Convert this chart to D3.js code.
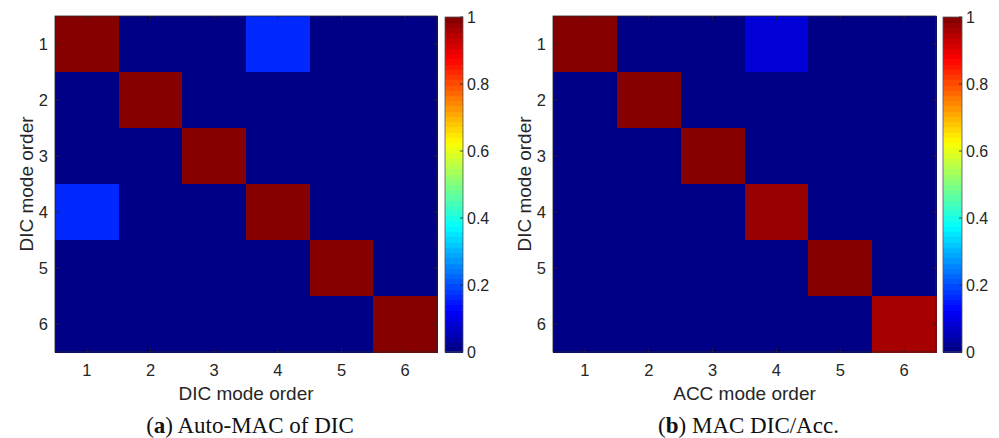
<!DOCTYPE html>
<html>
<head>
<meta charset="utf-8">
<script src="https://cdn.jsdelivr.net/npm/d3@7/dist/d3.min.js"></script>
<style>
  body { margin: 0; background: #fff; }
  svg { display: block; }
</style>
</head>
<body>
<svg id="chart" width="999" height="438"></svg>
<script>
// ---- data ----
const modes = [1, 2, 3, 4, 5, 6];
// MAC matrices, rows = DIC mode (y), cols = mode (x)
const macAuto = [
  [1.00, 0.00, 0.00, 0.16, 0.00, 0.00],
  [0.00, 1.00, 0.00, 0.00, 0.00, 0.00],
  [0.00, 0.00, 1.00, 0.00, 0.00, 0.00],
  [0.16, 0.00, 0.00, 1.00, 0.00, 0.00],
  [0.00, 0.00, 0.00, 0.00, 1.00, 0.00],
  [0.00, 0.00, 0.00, 0.00, 0.00, 1.00]
];
const macDicAcc = [
  [1.00, 0.00, 0.00, 0.09, 0.00, 0.00],
  [0.00, 0.995, 0.00, 0.00, 0.00, 0.00],
  [0.00, 0.00, 0.995, 0.00, 0.00, 0.00],
  [0.00, 0.00, 0.00, 0.975, 0.00, 0.00],
  [0.00, 0.00, 0.00, 0.00, 0.988, 0.00],
  [0.00, 0.00, 0.00, 0.00, 0.00, 0.968]
];
const colorbarTicks = [0, 0.2, 0.4, 0.6, 0.8, 1];
const panels = [
  { id: "a", matrix: macAuto, xTitle: "DIC mode order", yTitle: "DIC mode order", caption: "Auto-MAC of DIC" },
  { id: "b", matrix: macDicAcc, xTitle: "ACC mode order", yTitle: "DIC mode order", caption: "MAC DIC/Acc." }
];

// ---- MATLAB jet (64 levels) ----
const NLEV = 64;
function jet(v) {
  const c = x => Math.max(0, Math.min(1, x));
  const r = c(1.5 - Math.abs(4 * v - 3));
  const g = c(1.5 - Math.abs(4 * v - 2));
  const b = c(1.5 - Math.abs(4 * v - 1));
  return d3.rgb(r * 255, g * 255, b * 255).formatHex();
}
function jetQ(v) {
  let i = Math.min(NLEV - 1, Math.floor(v * NLEV));
  return jet((i + 0.5) / NLEV);
}

const svg = d3.select("#chart");
const fontSans = "'Liberation Sans', Arial, Helvetica, sans-serif";
const txt = "#262626";
const axisCol = "#262626";

const layouts = [
  { x0: 55, x1: 437, cb0: 445, cb1: 463 },
  { x0: 553, x1: 936, cb0: 943, cb1: 962 }
];
const y0 = 16, y1 = 352;

panels.forEach((p, pi) => {
  const L = layouts[pi];
  const g = svg.append("g");
  const x = d3.scaleBand().domain(modes).range([L.x0, L.x1]).padding(0);
  const y = d3.scaleBand().domain(modes).range([y0, y1]).padding(0);

  const cells = [];
  p.matrix.forEach((row, ri) => row.forEach((v, ci) => cells.push({ r: modes[ri], c: modes[ci], v })));

  g.selectAll("rect.cell").data(cells).join("rect")
    .attr("class", "cell")
    .attr("x", d => x(d.c))
    .attr("y", d => y(d.r))
    .attr("width", x.bandwidth() + 0.5)
    .attr("height", y.bandwidth() + 0.5)
    .attr("fill", d => jetQ(d.v))
    .attr("shape-rendering", "crispEdges");

  g.append("rect")
    .attr("x", L.x0).attr("y", y0)
    .attr("width", L.x1 - L.x0).attr("height", y1 - y0)
    .attr("fill", "none").attr("stroke", axisCol).attr("stroke-width", 0.8);

  const tk = 4;
  const xPos = modes.map(m => x(m) + x.bandwidth() / 2);
  g.selectAll("line.xtb").data(xPos).join("line")
    .attr("x1", d => d).attr("x2", d => d).attr("y1", y1).attr("y2", y1 - tk)
    .attr("stroke", axisCol).attr("stroke-width", 0.8);
  g.selectAll("line.xtt").data(xPos).join("line")
    .attr("x1", d => d).attr("x2", d => d).attr("y1", y0).attr("y2", y0 + tk)
    .attr("stroke", axisCol).attr("stroke-width", 0.8);
  const yPos = modes.map(m => y(m) + y.bandwidth() / 2);
  g.selectAll("line.ytl").data(yPos).join("line")
    .attr("y1", d => d).attr("y2", d => d).attr("x1", L.x0).attr("x2", L.x0 + tk)
    .attr("stroke", axisCol).attr("stroke-width", 0.8);
  g.selectAll("line.ytr").data(yPos).join("line")
    .attr("y1", d => d).attr("y2", d => d).attr("x1", L.x1).attr("x2", L.x1 - tk)
    .attr("stroke", axisCol).attr("stroke-width", 0.8);

  g.selectAll("text.xl").data(modes).join("text")
    .attr("x", m => x(m) + x.bandwidth() / 2).attr("y", 376)
    .attr("text-anchor", "middle").attr("font-family", fontSans).attr("font-size", 16.5)
    .attr("fill", txt).text(m => m);
  g.selectAll("text.yl").data(modes).join("text")
    .attr("x", L.x0 - 7).attr("y", m => y(m) + y.bandwidth() / 2 + 6)
    .attr("text-anchor", "end").attr("font-family", fontSans).attr("font-size", 16.5)
    .attr("fill", txt).text(m => m);

  g.append("text")
    .attr("x", (L.x0 + L.x1) / 2).attr("y", 400)
    .attr("text-anchor", "middle").attr("font-family", fontSans).attr("font-size", 19)
    .attr("fill", txt).text(p.xTitle);
  g.append("text")
    .attr("transform", `translate(${L.x0 - 29},${(y0 + y1) / 2}) rotate(-90)`)
    .attr("dy", "0.35em")
    .attr("text-anchor", "middle").attr("font-family", fontSans).attr("font-size", 19)
    .attr("fill", txt).text(p.yTitle);

  const cy = d3.scaleLinear().domain([0, 1]).range([y1, y0 + 1]);
  const levels = d3.range(NLEV);
  g.selectAll("rect.cb").data(levels).join("rect")
    .attr("x", L.cb0).attr("width", L.cb1 - L.cb0)
    .attr("y", i => cy((i + 1) / NLEV))
    .attr("height", i => cy(i / NLEV) - cy((i + 1) / NLEV) + 0.5)
    .attr("fill", i => jet((i + 0.5) / NLEV))
    .attr("shape-rendering", "crispEdges");
  g.append("rect")
    .attr("x", L.cb0).attr("y", cy(1))
    .attr("width", L.cb1 - L.cb0).attr("height", cy(0) - cy(1))
    .attr("fill", "none").attr("stroke", "#555").attr("stroke-width", 0.8);
  g.selectAll("line.cbt").data(colorbarTicks).join("line")
    .attr("x1", L.cb1).attr("x2", L.cb1 - 3)
    .attr("y1", d => cy(d)).attr("y2", d => cy(d))
    .attr("stroke", axisCol).attr("stroke-width", 0.8);
  g.selectAll("text.cbl").data(colorbarTicks).join("text")
    .attr("x", L.cb1 + 4).attr("y", d => cy(d) + 6)
    .attr("font-family", fontSans).attr("font-size", 16)
    .attr("fill", txt).text(d => d3.format("~g")(d));

  const cap = g.append("text")
    .attr("x", (L.x0 + L.x1) / 2 + 4).attr("y", 433)
    .attr("text-anchor", "middle").attr("font-family", "'Liberation Serif', 'Times New Roman', serif")
    .attr("font-size", 23).attr("fill", "#111");
  cap.append("tspan").text("(");
  cap.append("tspan").attr("font-weight", "bold").text(p.id);
  cap.append("tspan").text(") " + p.caption);
});
</script>
</body>
</html>
